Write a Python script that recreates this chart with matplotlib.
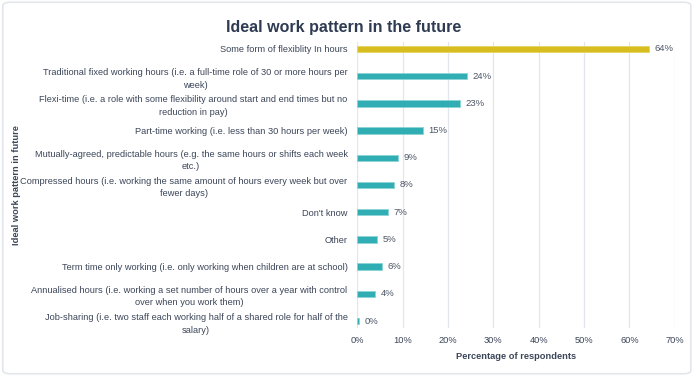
import matplotlib
matplotlib.use("Agg")
import matplotlib.pyplot as plt
from matplotlib.patches import FancyBboxPatch
import numpy as np

plt.rcParams["font.family"] = ["Liberation Sans", "DejaVu Sans"]

categories = [
    "Some form of flexiblity In hours",
    "Traditional fixed working hours (i.e. a full-time role of 30 or more hours per\nweek)",
    "Flexi-time (i.e. a role with some flexibility around start and end times but no\nreduction in pay)",
    "Part-time working (i.e. less than 30 hours per week)",
    "Mutually-agreed, predictable hours (e.g. the same hours or shifts each week\netc.)",
    "Compressed hours (i.e. working the same amount of hours every week but over\nfewer days)",
    "Don't know",
    "Other",
    "Term time only working (i.e. only working when children are at school)",
    "Annualised hours (i.e. working a set number of hours over a year with control\nover when you work them)",
    "Job-sharing (i.e. two staff each working half of a shared role for half of the\nsalary)",
]
values = [64.2, 24.2, 22.7, 14.5, 9.0, 8.2, 6.8, 4.4, 5.5, 3.9, 0.4]
value_labels = ["64%", "24%", "23%", "15%", "9%", "8%", "7%", "5%", "6%", "4%", "0%"]
x_ticks = [0, 10, 20, 30, 40, 50, 60, 70]

TEXT = "#3c4659"
TITLE = "#2e3b52"
TEAL = "#30aeb3"
YELLOW = "#d7bd1f"

fig = plt.figure(figsize=(6.95, 3.76), dpi=100)
fig.patches.append(FancyBboxPatch((0.004, 0.006), 0.99, 0.988,
                                  boxstyle="round,pad=0,rounding_size=0.01",
                                  transform=fig.transFigure, facecolor="white",
                                  edgecolor="#e3e6ec", linewidth=1.2, zorder=-1))

ax = fig.add_axes([0.514, 0.128, 0.457, 0.76])
ax.set_facecolor("none")

y = np.arange(len(categories))
colors = [YELLOW] + [TEAL] * (len(categories) - 1)
edges = ["#e6d463"] + ["#8ad4d6"] * (len(categories) - 1)
ax.barh(y, values, height=0.24, color=colors, edgecolor=edges, linewidth=0.6, zorder=3)

for yi, v, lab in zip(y, values, value_labels):
    ax.annotate(lab, (v, yi), xytext=(4, 0), textcoords="offset points",
                va="center", ha="left", fontsize=6.8, color="#4b5565")

ax.set_xlim(0, 70)
ax.set_ylim(len(categories) - 0.75, -0.25)
ax.set_xticks(x_ticks)
ax.set_xticklabels([f"{t}%" for t in x_ticks], fontsize=6.7, color=TEXT)
ax.set_yticks(y)
ax.set_yticklabels(categories, fontsize=6.7, color=TEXT, multialignment="center",
                   linespacing=1.5)
ax.tick_params(axis="both", length=0)
ax.tick_params(axis="y", pad=7)
ax.tick_params(axis="x", pad=6)
ax.grid(axis="x", color="#e3e6ec", linewidth=0.9, zorder=0)
for s in ax.spines.values():
    s.set_visible(False)

ax.set_xlabel("Percentage of respondents", fontsize=6.7, fontweight="bold", color=TEXT, labelpad=5)
ax.set_ylabel("Ideal work pattern in future", fontsize=6.7, fontweight="bold", color=TEXT)
ax.yaxis.set_label_coords(-1.06, 0.5)

fig.text(0.495, 0.928, "Ideal work pattern in the future", ha="center", va="center",
         fontsize=11.5, fontweight="bold", color=TITLE)

fig.savefig("out.png", dpi=100)
